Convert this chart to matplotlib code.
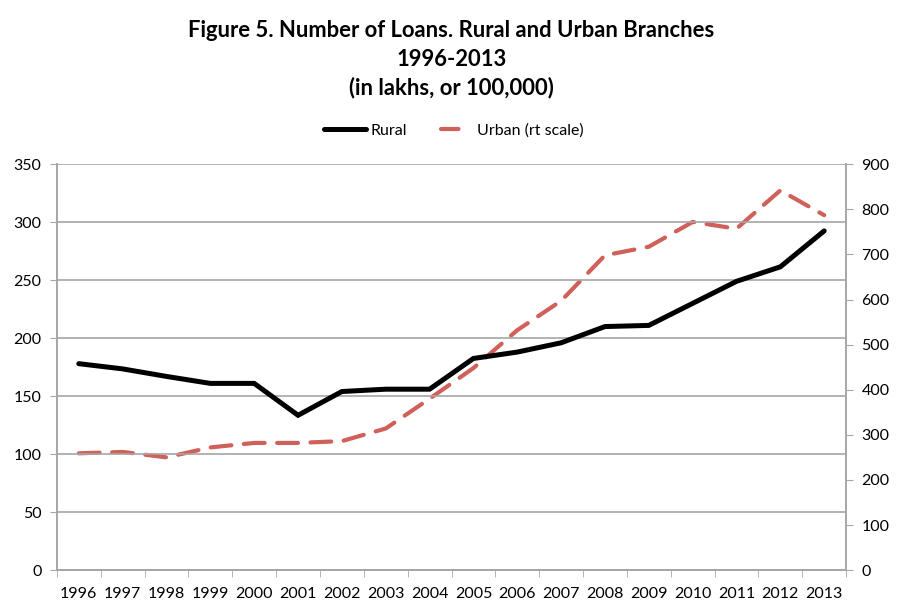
import matplotlib.pyplot as plt
from matplotlib.lines import Line2D
import numpy as np

years = list(range(1996, 2014))
rural = [178, 173.5, 167, 161, 161, 133.5, 154, 156, 156, 182.5,
         188, 196, 210, 211, 230, 249, 261.5, 292.5]
urban = [259, 262, 250, 272, 282, 282, 286, 314, 380, 448,
         532, 597, 698, 717, 772, 757, 842, 787]

FONT = ['Lato', 'DejaVu Sans']
GRID = '#a6a6a6'
RED = '#d0605a'


def plot():
    plt.rcParams['font.family'] = FONT
    fig = plt.figure(figsize=(9.03, 6.15), dpi=100)
    ax = fig.add_axes([0.063, 0.073, 0.874, 0.66])
    ax2 = ax.twinx()

    x = np.arange(len(years))
    l1, = ax.plot(x, rural, color='black', lw=3.6, solid_capstyle='round',
                  solid_joinstyle='miter', label='Rural')
    ax2.plot(x, urban, color=RED, lw=3.0, dashes=(5, 3),
             dash_capstyle='round')
    # legend shows a single centred dash, like the original
    l2 = Line2D([], [], color=RED, lw=3.0, linestyle=(7.6, (4.2, 5.8)),
                dash_capstyle='round', label='Urban (rt scale)')

    ax.set_xlim(-0.5, len(years) - 0.5)
    ax.set_ylim(0, 350)
    ax2.set_ylim(0, 900)
    ax.set_yticks(range(0, 351, 50))
    ax2.set_yticks(range(0, 901, 100))
    ax.set_xticks(x)
    ax.set_xticklabels([str(y) for y in years])
    ax.set_xticks(np.arange(-0.5, len(years), 1), minor=True)
    ax.tick_params(axis='x', which='major', length=0, labelsize=11.5, pad=12)
    ax.tick_params(axis='x', which='minor', length=5, color=GRID)
    ax.tick_params(axis='y', length=5, color=GRID, labelsize=11.5, pad=6)
    ax2.tick_params(axis='y', length=5, color=GRID, labelsize=11.5, pad=6)

    ax.grid(axis='y', color=GRID, lw=1.2)
    ax.set_axisbelow(True)
    for a in (ax, ax2):
        a.spines['top'].set_visible(False)
        for s in ('left', 'right', 'bottom'):
            a.spines[s].set_color(GRID)
            a.spines[s].set_linewidth(1.2)
    ax.set_zorder(ax2.get_zorder() + 1)
    ax.patch.set_visible(False)

    title = ['Figure 5. Number of Loans. Rural and Urban Branches',
             '1996-2013', '(in lakhs, or 100,000)']
    for i, t in enumerate(title):
        fig.text(0.5, 0.951 - 0.047 * i, t, ha='center', va='center',
                 fontsize=15.8, fontweight='bold')

    fig.legend(handles=[l1, l2], loc='center', bbox_to_anchor=(0.503, 0.788),
               ncol=2, frameon=False, fontsize=11.5, handlelength=2.6,
               handletextpad=0.3, columnspacing=1.5)

    fig.savefig('out.png', dpi=100)


def main():
    plot()


if __name__ == "__main__":
    main()
